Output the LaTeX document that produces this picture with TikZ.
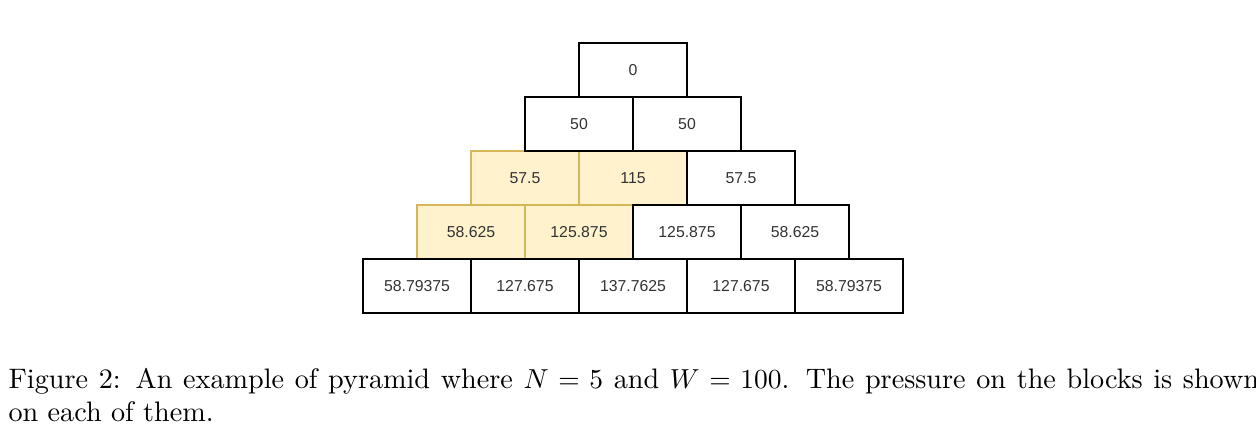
\documentclass[tikz,border=0pt]{standalone}
\usepackage{fontspec}
\newfontfamily\boxfont{Liberation Sans}
\definecolor{hlfill}{HTML}{FFF2CC}
\definecolor{hldraw}{HTML}{D6B656}
\definecolor{txt}{HTML}{333333}
\begin{document}
\begin{tikzpicture}[x=0.3636pt,y=-0.3636pt,
  blk/.style={draw=black, fill=white, line width=0.45pt, minimum width=39.27pt, minimum height=19.64pt, inner sep=0pt, font=\boxfont\fontsize{5.75}{7}\selectfont, text=txt},
  hl/.style={blk, draw=hldraw, fill=hlfill},
  captext/.style={anchor=base west, inner sep=0pt, font=\fontsize{10.25}{12.3}\selectfont}]
\useasboundingbox (0,0) rectangle (1256,447);
% highlighted blocks first
\node[hl] (r2c0) at (525,178) {57.5};
\node[hl] (r2c1) at (633,178) {115};
\node[hl] (r3c0) at (471,232) {58.625};
\node[hl] (r3c1) at (579,232) {125.875};
% remaining blocks
\node[blk] (r0c0) at (633,70) {0};
\node[blk] (r1c0) at (579,124) {50};
\node[blk] (r1c1) at (687,124) {50};
\node[blk] (r2c2) at (741,178) {57.5};
\node[blk] (r3c2) at (687,232) {125.875};
\node[blk] (r3c3) at (795,232) {58.625};
\node[blk] (r4c0) at (417,286) {58.79375};
\node[blk] (r4c1) at (525,286) {127.675};
\node[blk] (r4c2) at (633,286) {137.7625};
\node[blk] (r4c3) at (741,286) {127.675};
\node[blk] (r4c4) at (849,286) {58.79375};
% caption
\node[captext] (cap1) at (8,389) {\hbox to 454.7pt{Figure 2: An example of pyramid where $N=5$ and $W=100$. The pressure on the blocks is shown}};
\node[captext] (cap2) at (8,421.7) {on each of them.};
\end{tikzpicture}
\end{document}
